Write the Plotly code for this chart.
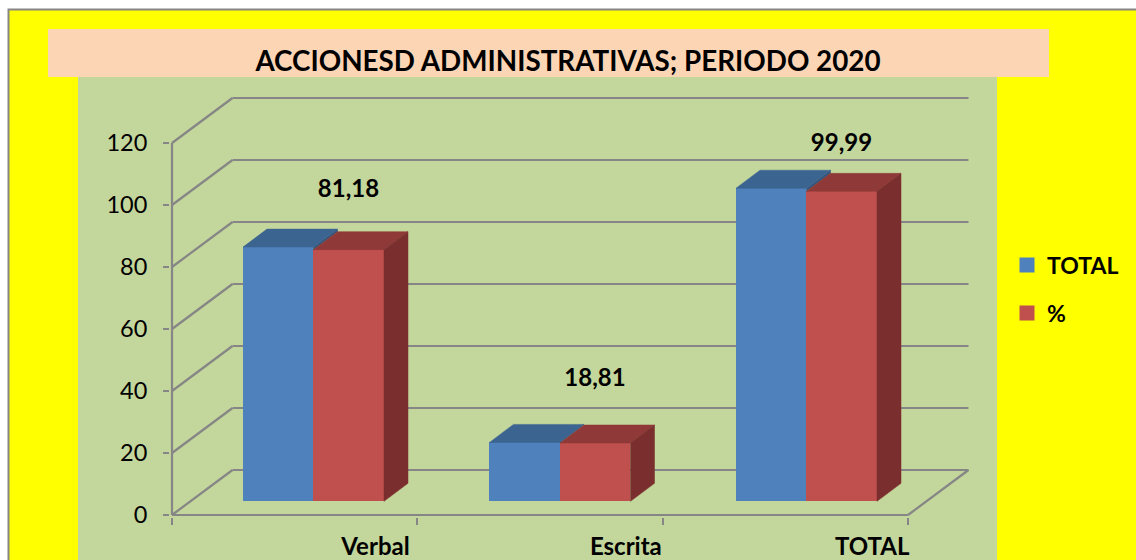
import plotly.graph_objects as go

categories = ["Verbal", "Escrita", "TOTAL"]
total_values = [82, 19, 101]
percent_values = [81.18, 18.81, 99.99]
percent_labels = ["81,18", "18,81", "99,99"]
label_lift = [18.8, 20.3, 14.9]
y_ticks = [0, 20, 40, 60, 80, 100, 120]

W, H = 1136, 560
PX_LEFT, PX_ZERO = 172.0, 515.0
PX_PER_CAT, PX_PER_UNIT = 245.33, 3.1
FONT = "Lato"
GRAY = "#868686"
BLUE, RED = "#4F81BD", "#C0504D"
BLUE_TOP, BLUE_SIDE, RED_TOP, RED_SIDE = "#3C6491", "#33557F", "#8F3A38", "#7A2F2E"


def xd(px):
    return px / PX_PER_CAT


def yd(px):
    return px / PX_PER_UNIT


WALL_DX, WALL_DY = xd(60.5), yd(45)
BAR_DX, BAR_DY = xd(24), yd(18)
BAR_W = xd(70.5)
BASE = yd(13.7)
LEFT_GAP = xd(71)
GROUP_PITCH = xd(246.5)
EDGE = 1.5
PLOT = dict(l=170, r=972, t=95, b=517)


def paper_x(px):
    return (px - PLOT["l"]) / (PLOT["r"] - PLOT["l"])


def paper_y(px):
    return (PLOT["b"] - px) / (PLOT["b"] - PLOT["t"])


def rect(x0, y0, x1, y1, fill, line=None):
    return dict(type="rect", xref="paper", yref="paper", layer="below",
                x0=paper_x(x0), x1=paper_x(x1), y0=paper_y(y0), y1=paper_y(y1),
                fillcolor=fill, line=dict(color=line or fill, width=2 if line else 0))


def seg(x0, y0, x1, y1):
    return dict(type="line", xref="x", yref="y", layer="below", x0=x0, y0=y0, x1=x1, y1=y1,
                line=dict(color=GRAY, width=2.2))


shapes = [
    rect(8.5, 9.5, 1160, 600, "#FFFF00", GRAY),
    rect(78, 77, 997, 600, "#C3D69B"),
    rect(48, 29, 1049, 77, "#FCD5B5"),
]
n = len(categories)
for v in y_ticks:
    shapes.append(seg(0, v, WALL_DX, v + WALL_DY))
    shapes.append(seg(WALL_DX, v + WALL_DY, n + WALL_DX, v + WALL_DY))
shapes.append(seg(0, 0, 0, max(y_ticks)))
shapes.append(seg(0, 0, n, 0))
shapes.append(seg(n, 0, n + WALL_DX, WALL_DY))

fig = go.Figure()
edge_x, edge_y = xd(EDGE), yd(EDGE)
lefts_blue = [i * GROUP_PITCH + LEFT_GAP for i in range(n)]
lefts_red = [x + BAR_W for x in lefts_blue]

for name, vals, lefts, color, leg in [("TOTAL", total_values, lefts_blue, BLUE, "legend"),
                                      ("%", percent_values, lefts_red, RED, "legend2")]:
    fig.add_trace(go.Bar(
        name=name, x=lefts, y=[v - 2 * edge_y for v in vals],
        base=BASE + edge_y, width=BAR_W - 2 * edge_x, offset=edge_x,
        marker=dict(color=color, line=dict(color=color, width=3)),
        legend=leg, hoverinfo="skip"))


def face(xs, ys, color):
    fig.add_trace(go.Scatter(x=xs + xs[:1], y=ys + ys[:1], mode="lines", fill="toself",
                             fillcolor=color, line=dict(color=color, width=0.5),
                             showlegend=False, hoverinfo="skip"))


for x, v, p in zip(lefts_blue, total_values, percent_values):
    t = BASE + v
    tp = BASE + p
    r = x + BAR_W
    # only the sliver of the blue side that rises above the red bar stays visible
    face([r, r + BAR_DX, r + BAR_DX, r], [tp, tp + BAR_DY, t + BAR_DY, t], BLUE_SIDE)
    face([x, x + BAR_DX, r + BAR_DX, r], [t, t + BAR_DY, t + BAR_DY, t], BLUE_TOP)
for x, v in zip(lefts_red, percent_values):
    t = BASE + v
    r = x + BAR_W
    face([x, x + BAR_DX, r + BAR_DX, r], [t, t + BAR_DY, t + BAR_DY, t], RED_TOP)
    face([r, r + BAR_DX, r + BAR_DX, r], [BASE, BASE + BAR_DY, t + BAR_DY, t], RED_SIDE)

fig.add_trace(go.Scatter(
    x=[x + xd(35) for x in lefts_red],
    y=[BASE + v + d for v, d in zip(percent_values, label_lift)],
    mode="text", text=percent_labels, textposition="middle center",
    textfont=dict(family=FONT, size=24, color="#000000"), cliponaxis=False,
    texttemplate="<b>%{text}</b>", showlegend=False, hoverinfo="skip"))

# invisible carrier so the second x axis (tick marks only) is drawn
fig.add_trace(go.Scatter(x=[0, n], y=[0, 0], xaxis="x2", mode="lines", line=dict(width=0),
                         showlegend=False, hoverinfo="skip"))

x_range = [xd(PLOT["l"] - PX_LEFT), xd(PLOT["r"] - PX_LEFT)]
y_range = [yd(PX_ZERO - PLOT["b"]), yd(PX_ZERO - PLOT["t"])]
label_x = [i + xd(d) for i, d in enumerate([203.5, 208.5, 209.5])]

legend_common = dict(xref="paper", yref="paper", xanchor="left", yanchor="middle",
                     bgcolor="rgba(0,0,0,0)", borderwidth=0, itemclick=False,
                     font=dict(family=FONT, size=23, color="#000000", weight="bold"))

fig.update_layout(
    width=W, height=H, autosize=False,
    margin=dict(l=PLOT["l"], r=W - PLOT["r"], t=PLOT["t"], b=H - PLOT["b"], autoexpand=False),
    paper_bgcolor="#FFFFFF", plot_bgcolor="rgba(0,0,0,0)",
    barmode="overlay", bargap=0,
    font=dict(family=FONT, color="#000000"),
    title=dict(text="<b>ACCIONESD ADMINISTRATIVAS; PERIODO 2020</b>", x=0.5, xref="container",
               xanchor="center", y=1 - 61 / H, yanchor="middle", yref="container",
               font=dict(family=FONT, size=27.8, color="#000000")),
    xaxis=dict(type="linear", range=x_range, showgrid=False, zeroline=False, showline=False,
               tickmode="array", tickvals=label_x, ticktext=[f"<b>{c}</b>" for c in categories],
               ticks="", ticklabelstandoff=13, tickfont=dict(family=FONT, size=24, color="#000000")),
    xaxis2=dict(type="linear", range=x_range, overlaying="x", side="bottom", anchor="y",
                showgrid=False, zeroline=False, showline=False, showticklabels=False,
                tickmode="array", tickvals=list(range(n + 1)), ticks="outside", ticklen=7,
                tickwidth=2, tickcolor=GRAY),
    yaxis=dict(range=y_range, showgrid=False, zeroline=False, showline=False,
               tickmode="array", tickvals=y_ticks, ticks="outside", ticklen=6, tickwidth=2,
               tickcolor=GRAY, ticklabelstandoff=11,
               tickfont=dict(family=FONT, size=23.5, color="#000000")),
    legend=dict(x=paper_x(1007), y=paper_y(265), **legend_common),
    legend2=dict(x=paper_x(1007), y=paper_y(313), **legend_common),
    shapes=shapes,
)

fig.write_html("out.html", config=dict(displayModeBar=False),
               post_script="document.body.style.margin='0';document.documentElement.style.overflow='hidden';")
